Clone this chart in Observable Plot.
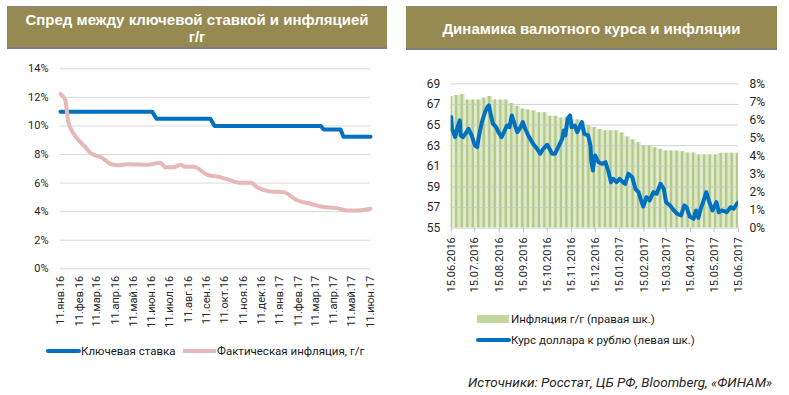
<!DOCTYPE html>
<html><head><meta charset="utf-8">
<script src="https://cdn.jsdelivr.net/npm/d3@7"></script>
<script src="https://cdn.jsdelivr.net/npm/@observablehq/plot@0.6"></script>
<style>
html,body{margin:0;padding:0;background:#fff;}
#root{position:relative;width:789px;height:395px;overflow:hidden;font-family:Roboto,"Liberation Sans",sans-serif;}
.hdr{position:absolute;background:#968A52;border-top:1px solid #8a8a8a;border-bottom:2px solid #7f7f7f;box-sizing:border-box;}
.ht{position:absolute;color:#fff;font-family:"Liberation Sans",Arial,sans-serif;font-weight:700;font-size:15px;line-height:15px;height:15px;text-align:center;white-space:nowrap;}
.abs{position:absolute;}
.leg{position:absolute;font-size:11.5px;color:#1a1a1a;white-space:nowrap;display:flex;align-items:center;}
.src{position:absolute;font-style:italic;font-size:13.5px;color:#262626;white-space:nowrap;}
</style></head>
<body><div id="root">
<div class="hdr" style="left:7px;top:6px;width:380px;height:43px;"></div>
<div class="ht" style="left:7px;width:380px;top:12px;">Спред между ключевой ставкой и инфляцией</div>
<div class="ht" style="left:7px;width:380px;top:29px;">г/г</div>
<div class="hdr" style="left:406px;top:6px;width:371px;height:44px;"></div>
<div class="ht" style="left:406px;width:371px;top:21px;">Динамика валютного курса и инфляции</div>
<div id="leftChart" class="abs" style="left:0;top:55px;"></div>
<div id="rightChart" class="abs" style="left:400px;top:70px;"></div>
<div class="leg" style="left:46px;top:344px;"><svg width="35" height="8"><line x1="2" y1="4" x2="33" y2="4" stroke="#0070C0" stroke-width="4" stroke-linecap="round"/></svg>Ключевая ставка</div>
<div class="leg" style="left:182px;top:344px;"><svg width="35" height="8"><line x1="1" y1="4" x2="34" y2="4" stroke="#E6B9B8" stroke-width="4"/></svg>Фактическая инфляция, г/г</div>
<div class="leg" style="left:476px;top:312px;"><svg width="35" height="10"><rect x="1" y="1" width="32" height="8" fill="#C3D69B"/></svg>Инфляция г/г (правая шк.)</div>
<div class="leg" style="left:476px;top:333px;"><svg width="35" height="8"><line x1="2" y1="4" x2="33" y2="4" stroke="#0070C0" stroke-width="4" stroke-linecap="round"/></svg>Курс доллара к рублю (левая шк.)</div>
<div class="src" style="left:468px;top:374px;">Источники: Росстат, ЦБ РФ, Bloomberg, «ФИНАМ»</div>
</div>
<script>
// ---------- Left chart data ----------
const leftTickDates = ["2016-01-11","2016-02-11","2016-03-11","2016-04-11","2016-05-11","2016-06-11","2016-07-11","2016-08-11","2016-09-11","2016-10-11","2016-11-11","2016-12-11","2017-01-11","2017-02-11","2017-03-11","2017-04-11","2017-05-11","2017-06-11"];
const leftTickLabels = ["11.янв.16","11.фев.16","11.мар.16","11.апр.16","11.май.16","11.июн.16","11.июл.16","11.авг.16","11.сен.16","11.окт.16","11.ноя.16","11.дек.16","11.янв.17","11.фев.17","11.мар.17","11.апр.17","11.май.17","11.июн.17"];
const leftYTicks = [0,2,4,6,8,10,12,14];

const keyRateDates = ["2016-01-11","2016-06-12","2016-06-19","2016-09-17","2016-09-24","2017-03-20","2017-03-25","2017-04-22","2017-04-27","2017-06-11"];
const keyRateValues = [11,11,10.5,10.5,10,10,9.75,9.75,9.25,9.25];

const inflDates = ["2016-01-11","2016-01-19","2016-01-24","2016-02-02","2016-02-16","2016-02-22","2016-03-01","2016-03-21","2016-04-03","2016-04-17","2016-05-01","2016-06-04","2016-06-26","2016-07-04","2016-07-18","2016-07-29","2016-08-06","2016-08-20","2016-09-12","2016-10-04","2016-10-21","2016-11-06","2016-11-23","2016-12-04","2016-12-26","2017-01-17","2017-02-09","2017-03-03","2017-03-20","2017-04-17","2017-05-03","2017-05-20","2017-06-11"];
const inflValues = [12.25,11.8,10.3,9.45,8.75,8.5,8.1,7.75,7.35,7.25,7.32,7.28,7.42,7.1,7.1,7.28,7.14,7.14,6.58,6.41,6.18,6.02,6.02,5.71,5.41,5.36,4.78,4.55,4.36,4.24,4.08,4.08,4.2];

// ---------- Right chart data ----------
const rightTickDates = ["2016-06-15","2016-07-15","2016-08-15","2016-09-15","2016-10-15","2016-11-15","2016-12-15","2017-01-15","2017-02-15","2017-03-15","2017-04-15","2017-05-15","2017-06-15"];
const rightTickLabels = ["15.06.2016","15.07.2016","15.08.2016","15.09.2016","15.10.2016","15.11.2016","15.12.2016","15.01.2017","15.02.2017","15.03.2017","15.04.2017","15.05.2017","15.06.2017"];
const rubTicks = [55,57,59,61,63,65,67,69];
const pctTicks = [0,1,2,3,4,5,6,7,8];

const usdDates = ["2016-06-15","2016-06-16","2016-06-20","2016-06-23","2016-06-26","2016-06-27","2016-06-30","2016-07-03","2016-07-07","2016-07-11","2016-07-15","2016-07-18","2016-07-20","2016-07-24","2016-07-28","2016-07-31","2016-08-02","2016-08-04","2016-08-07","2016-08-11","2016-08-14","2016-08-18","2016-08-21","2016-08-25","2016-08-28","2016-08-31","2016-09-04","2016-09-07","2016-09-10","2016-09-14","2016-09-17","2016-09-22","2016-09-27","2016-10-02","2016-10-06","2016-10-10","2016-10-15","2016-10-18","2016-10-21","2016-10-25","2016-10-29","2016-11-03","2016-11-05","2016-11-07","2016-11-10","2016-11-13","2016-11-15","2016-11-19","2016-11-22","2016-11-26","2016-11-28","2016-12-01","2016-12-06","2016-12-09","2016-12-10","2016-12-12","2016-12-14","2016-12-15","2016-12-19","2016-12-24","2016-12-28","2016-12-30","2017-01-01","2017-01-04","2017-01-07","2017-01-11","2017-01-15","2017-01-19","2017-01-22","2017-01-26","2017-01-31","2017-02-04","2017-02-08","2017-02-12","2017-02-14","2017-02-18","2017-02-22","2017-02-27","2017-03-03","2017-03-08","2017-03-12","2017-03-15","2017-03-20","2017-03-25","2017-03-29","2017-04-03","2017-04-07","2017-04-10","2017-04-14","2017-04-19","2017-04-22","2017-04-25","2017-04-28","2017-05-01","2017-05-05","2017-05-09","2017-05-13","2017-05-18","2017-05-21","2017-05-25","2017-05-31","2017-06-05","2017-06-09","2017-06-13","2017-06-15"];
const usdValues = [65.77,64.64,63.83,64.8,65.45,64.0,63.83,64.15,64.64,64.0,63.02,62.86,63.83,65.28,66.25,66.74,66.9,66.1,65.13,64.8,64.31,63.83,64.31,64.96,64.8,65.93,64.96,64.31,64.64,65.28,64.64,63.83,63.19,62.7,62.22,62.7,63.09,62.7,62.22,62.22,62.86,63.67,64.48,64.0,65.61,65.93,64.8,64.96,64.31,64.96,65.28,64.15,64.0,63.0,61.5,60.6,61.8,62.05,61.4,61.24,61.4,60.92,60.43,59.46,59.79,59.46,59.79,59.46,59.3,60.28,59.95,58.82,58.49,57.52,57.1,58.0,57.69,58.49,58.34,59.3,58.82,57.52,57.2,56.72,56.4,56.23,57.2,57.04,56.13,55.91,56.72,56.0,56.88,57.52,58.49,57.52,56.72,57.52,56.55,56.72,56.55,57.04,56.88,57.37,57.52];

// weekly y/y inflation, first week starting 15.06.2016
const weeklyStart = "2016-06-15";
const weeklyInfl = [7.3,7.35,7.4,7.1,7.1,7.1,7.2,7.3,7.1,7.1,7.1,6.9,6.75,6.6,6.55,6.5,6.4,6.4,6.2,6.2,6.1,6.15,6.0,6.0,5.85,5.67,5.58,5.47,5.4,5.4,5.4,5.28,5.06,4.89,4.74,4.56,4.56,4.46,4.37,4.28,4.28,4.28,4.24,4.17,4.17,4.06,4.06,4.06,4.06,4.15,4.15,4.15,4.15];

// ---------- build ----------
const P = s => new Date(s + "T00:00:00Z");
const keyRate = keyRateDates.map((d,i) => ({date: P(d), value: keyRateValues[i]}));
const infl = inflDates.map((d,i) => ({date: P(d), value: inflValues[i]}));
const usd = usdDates.map((d,i) => ({date: P(d), value: usdValues[i]}));
const wStart = P(weeklyStart);
const weeks = weeklyInfl.map((v,i) => ({date: d3.utcDay.offset(wStart, 7*i), value: v}));
const leftTicks = leftTickDates.map(P);
const rightTicks = rightTickDates.map(P);
const labelOf = (ticks, labels) => d => { const k = ticks.findIndex(t => +t === +d); return k >= 0 ? labels[k] : ""; };

const baseStyle = {fontFamily: "Roboto, 'Liberation Sans', sans-serif", fontSize: "11px", color: "#262626", background: "transparent", overflow: "visible"};

const left = Plot.plot({
  width: 395, height: 280,
  marginLeft: 60, marginRight: 25, marginTop: 13.3, marginBottom: 66.7,
  style: baseStyle,
  x: {type: "utc", domain: [P("2016-01-11"), P("2017-06-11")]},
  y: {domain: [0, 14]},
  marks: [
    Plot.gridY(leftYTicks, {stroke: "#D9D9D9", strokeOpacity: 1}),
    Plot.axisY(leftYTicks, {tickSize: 0, tickPadding: 12, tickFormat: d => d + "%", label: null}),
    Plot.axisX(leftTicks, {tickSize: 0, tickPadding: 7, tickRotate: -90, tickFormat: labelOf(leftTicks, leftTickLabels), label: null}),
    Plot.line(keyRate, {x: "date", y: "value", stroke: "#0070C0", strokeWidth: 4}),
    Plot.line(infl, {x: "date", y: "value", stroke: "#E6B9B8", strokeWidth: 4, curve: "monotone-x"})
  ]
});
document.getElementById("leftChart").append(left);

const toRub = p => 55 + p * 14 / 8;
const right = Plot.plot({
  width: 389, height: 230,
  marginLeft: 50.7, marginRight: 51, marginTop: 13.3, marginBottom: 72.3,
  style: baseStyle,
  x: {type: "utc", domain: [P("2016-06-15"), P("2017-06-15")]},
  y: {domain: [55, 69]},
  marks: [
    Plot.rect(weeks, {x1: d => d3.utcHour.offset(d.date, -84), x2: d => d3.utcHour.offset(d.date, 84), y1: 55, y2: d => toRub(d.value), fill: "#DCE7C7", clip: true}),
    Plot.rect(weeks, {x1: d => d3.utcHour.offset(d.date, -84), x2: d => d3.utcHour.offset(d.date, 84), y1: 55, y2: d => toRub(d.value), fill: "#B2CA88", insetLeft: 1.6, insetRight: 1.6, clip: true}),
    Plot.gridY(rubTicks.slice(1), {stroke: "#C8C8C8", strokeOpacity: 0.8}),
    Plot.ruleY([55], {stroke: "#D9D9D9"}),
    Plot.axisY(rubTicks, {anchor: "left", tickSize: 0, tickPadding: 11, label: null, fontSize: 12}),
    Plot.axisY(pctTicks.map(toRub), {anchor: "right", tickSize: 0, tickPadding: 11, tickFormat: v => Math.round((v - 55) * 8 / 14) + "%", label: null, fontSize: 12}),
    Plot.axisX(rightTicks, {tickSize: 4, tickPadding: 5, tickRotate: -90, stroke: "#BFBFBF", tickFormat: labelOf(rightTicks, rightTickLabels), label: null}),
    Plot.line(usd, {x: "date", y: "value", stroke: "#0070C0", strokeWidth: 4, clip: true})
  ]
});
document.getElementById("rightChart").append(right);
</script>
</body></html>
